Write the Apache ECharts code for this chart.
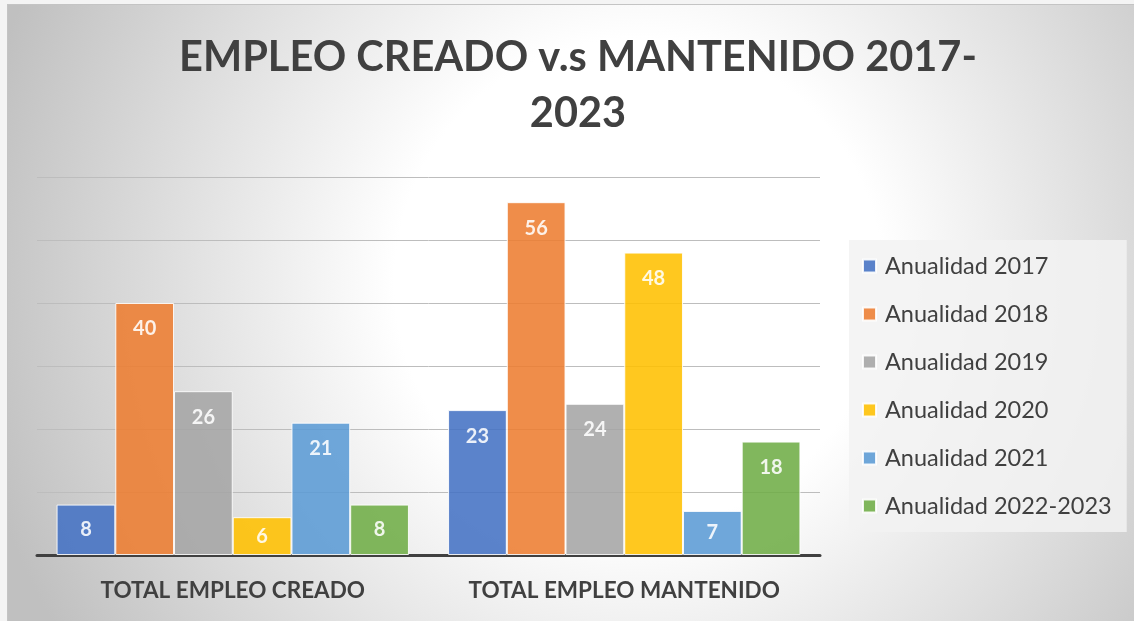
<!DOCTYPE html>
<html>
<head>
<meta charset="utf-8">
<script src="https://cdn.jsdelivr.net/npm/echarts@6/dist/echarts.min.js"></script>
<style>
  html, body { margin: 0; padding: 0; background: #f4f4f4; }
  #chart {
    position: absolute; left: 7px; top: 4px;
    width: 1127px; height: 617px;
    border-left: 1px solid #c4c4c4; border-top: 1px solid #c4c4c4;
    box-sizing: border-box;
  }
</style>
</head>
<body>
<div id="chart"></div>
<script>
// Categorias y series
const categories = ["TOTAL EMPLEO CREADO", "TOTAL EMPLEO MANTENIDO"];
const seriesNames = [
  "Anualidad 2017",
  "Anualidad 2018",
  "Anualidad 2019",
  "Anualidad 2020",
  "Anualidad 2021",
  "Anualidad 2022-2023"
];
const anualidad2017 = [8, 23];
const anualidad2018 = [40, 56];
const anualidad2019 = [26, 24];
const anualidad2020 = [6, 48];
const anualidad2021 = [21, 7];
const anualidad2022_2023 = [8, 18];

const values = [anualidad2017, anualidad2018, anualidad2019, anualidad2020, anualidad2021, anualidad2022_2023];
const colors = ["#4472C4", "#ED7D31", "#A5A5A5", "#FFC000", "#5B9BD5", "#70AD47"];

const FONT = "Lato";

const chart = echarts.init(document.getElementById("chart"));

const series = seriesNames.map(function (name, i) {
  return {
    name: name,
    type: "bar",
    barGap: "0%",
    barCategoryGap: "10%",
    itemStyle: { color: colors[i], opacity: 0.88, borderColor: "#ffffff", borderWidth: 1 },
    data: values[i].map(function (v) {
      return {
        value: v,
        label: { position: v < 10 ? "inside" : "insideTop", distance: 16 }
      };
    }),
    label: {
      show: true,
      color: "#ffffff",
      fontFamily: FONT,
      fontWeight: "bold",
      fontSize: 20
    }
  };
});

const option = {
  backgroundColor: {
    type: "radial", x: 0.56, y: 0.45, r: 1.1,
    colorStops: [
      { offset: 0, color: "#ffffff" },
      { offset: 0.36, color: "#ffffff" },
      { offset: 1, color: "#c0c0c0" }
    ]
  },
  title: {
    text: "EMPLEO CREADO v.s MANTENIDO 2017-\n2023",
    left: 565,
    textAlign: "center",
    top: 20,
    textStyle: {
      fontFamily: FONT,
      fontWeight: "bold",
      fontSize: 41.5,
      lineHeight: 56,
      color: "#404040"
    }
  },
  legend: {
    orient: "vertical",
    left: 841,
    top: 235,
    padding: [14, 15, 14, 13],
    backgroundColor: "rgba(242,242,242,0.85)",
    itemWidth: 13,
    itemHeight: 13,
    itemGap: 24,
    icon: "rect",
    textStyle: {
      fontFamily: FONT,
      fontSize: 23.5,
      lineHeight: 24,
      color: "#404040",
      padding: [0, 0, 0, 4]
    },
    data: seriesNames
  },
  grid: { left: 29, right: 314, top: 172, bottom: 66 },
  xAxis: {
    type: "category",
    data: categories,
    axisTick: { show: false },
    axisLine: { lineStyle: { color: "#404040", width: 3 } },
    axisLabel: {
      interval: 0,
      margin: 24,
      fontFamily: FONT,
      fontWeight: "bold",
      fontSize: 22.5,
      color: "#404040"
    }
  },
  yAxis: {
    type: "value",
    min: 0,
    max: 60,
    interval: 10,
    axisLabel: { show: false },
    axisLine: { show: false },
    axisTick: { show: false },
    splitLine: { lineStyle: { color: "#bdbdbd", width: 1 } }
  },
  series: series
};

chart.setOption(option);
</script>
</body>
</html>
